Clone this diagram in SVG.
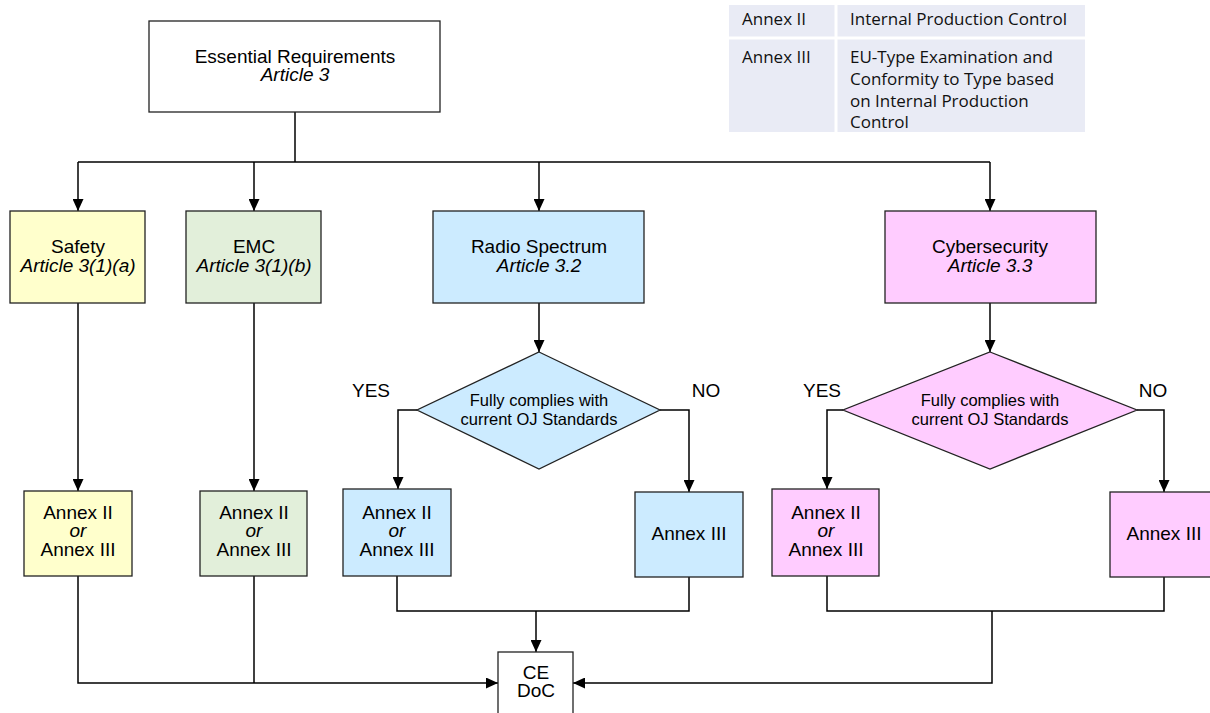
<svg xmlns="http://www.w3.org/2000/svg" width="1210" height="713" viewBox="0 0 1210 713">
<style>
.box{stroke:#222;stroke-width:1.3}
.t{font-family:"Liberation Sans",Arial,sans-serif;font-size:19px;fill:#000;text-anchor:middle}
.d{font-family:"Liberation Sans",Arial,sans-serif;font-size:16.5px;fill:#000;text-anchor:middle}
.i{font-style:italic}
.c{fill:none;stroke:#000;stroke-width:1.5}
.tb{font-family:"Open Sans","Liberation Sans",sans-serif;font-size:17px;fill:#111}
</style>
<defs>
<marker id="ah" viewBox="0 0 12 11" refX="12" refY="5.5" markerWidth="12" markerHeight="11" markerUnits="userSpaceOnUse" orient="auto">
<path d="M0,0 L12,5.5 L0,11 Z" fill="#000"/>
</marker>
</defs>
<rect width="1210" height="713" fill="#fff"/>

<g id="legend">
<rect x="729" y="5" width="356" height="127" fill="#E9EBF5"/>
<line x1="729" y1="38" x2="1085" y2="38" stroke="#fff" stroke-width="3"/>
<line x1="836" y1="5" x2="836" y2="132" stroke="#fff" stroke-width="3"/>
<text class="tb" x="742" y="25">Annex II</text>
<text class="tb" x="850" y="25">Internal Production Control</text>
<text class="tb" x="742" y="63">Annex III</text>
<text class="tb" x="850" y="63">EU-Type Examination and</text>
<text class="tb" x="850" y="85">Conformity to Type based</text>
<text class="tb" x="850" y="106.5">on Internal Production</text>
<text class="tb" x="850" y="128">Control</text>
</g>

<g id="connectors">
<path class="c" stroke-width="2" d="M295,112 V162"/>
<path class="c" stroke-width="2" d="M78,162 H990"/>
<path class="c" d="M78,162 V211" marker-end="url(#ah)"/>
<path class="c" d="M254,162 V211" marker-end="url(#ah)"/>
<path class="c" d="M539,162 V211" marker-end="url(#ah)"/>
<path class="c" d="M990,162 V211" marker-end="url(#ah)"/>
<path class="c" d="M78,303 V491" marker-end="url(#ah)"/>
<path class="c" d="M254,303 V491" marker-end="url(#ah)"/>
<path class="c" d="M539,303 V352" marker-end="url(#ah)"/>
<path class="c" d="M990,303 V352" marker-end="url(#ah)"/>
<path class="c" d="M417,410 H398 V489" marker-end="url(#ah)"/>
<path class="c" d="M660,410 H689 V492" marker-end="url(#ah)"/>
<path class="c" d="M843,410 H827 V489" marker-end="url(#ah)"/>
<path class="c" d="M1137,410 H1164 V492" marker-end="url(#ah)"/>
<path class="c" d="M397,576 V611 H689 V577"/>
<path class="c" d="M536,611 V652" marker-end="url(#ah)"/>
<path class="c" d="M827,576 V611 H1164 V577"/>
<path class="c" d="M992,611 V683 H573" marker-end="url(#ah)"/>
<path class="c" d="M78,576 V683 H498" marker-end="url(#ah)"/>
<path class="c" d="M254,576 V683"/>
</g>

<g id="essential">
<rect class="box" x="149" y="21" width="291" height="91" fill="#fff"/>
<text class="t" x="295" y="62.5">Essential Requirements</text>
<text class="t i" x="295" y="80.5">Article 3</text>
</g>

<g id="safety">
<rect class="box" x="10" y="211" width="135" height="92" fill="#FFFFCC"/>
<text class="t" x="78" y="252.5">Safety</text>
<text class="t i" x="78" y="271.5">Article 3(1)(a)</text>
</g>

<g id="emc">
<rect class="box" x="186" y="211" width="135" height="92" fill="#E2EFDA"/>
<text class="t" x="254" y="252.5">EMC</text>
<text class="t i" x="254" y="271.5">Article 3(1)(b)</text>
</g>

<g id="radio">
<rect class="box" x="433" y="211" width="211" height="92" fill="#CCEBFF"/>
<text class="t" x="539" y="252.5">Radio Spectrum</text>
<text class="t i" x="539" y="271.5">Article 3.2</text>
</g>

<g id="cyber">
<rect class="box" x="885" y="211" width="211" height="92" fill="#FFCCFF"/>
<text class="t" x="990" y="252.5">Cybersecurity</text>
<text class="t i" x="990" y="271.5">Article 3.3</text>
</g>

<g id="radio-decision">
<polygon class="box" points="539,352 660,410 539,469 417,410" fill="#CCEBFF"/>
<text class="d" x="539" y="405.5">Fully complies with</text>
<text class="d" x="539" y="424.5">current OJ Standards</text>
<text class="t" x="371" y="397">YES</text>
<text class="t" x="706" y="397">NO</text>
</g>

<g id="cyber-decision">
<polygon class="box" points="990,352 1137,410 990,469 843,410" fill="#FFCCFF"/>
<text class="d" x="990" y="405.5">Fully complies with</text>
<text class="d" x="990" y="424.5">current OJ Standards</text>
<text class="t" x="822" y="397">YES</text>
<text class="t" x="1153" y="397">NO</text>
</g>

<g id="safety-annex">
<rect class="box" x="24" y="491" width="108" height="85" fill="#FFFFCC"/>
<text class="t" x="78" y="518.5">Annex II</text>
<text class="t i" x="78" y="537">or</text>
<text class="t" x="78" y="556">Annex III</text>
</g>

<g id="emc-annex">
<rect class="box" x="200" y="491" width="107" height="85" fill="#E2EFDA"/>
<text class="t" x="254" y="518.5">Annex II</text>
<text class="t i" x="254" y="537">or</text>
<text class="t" x="254" y="556">Annex III</text>
</g>

<g id="radio-annex-yes">
<rect class="box" x="343" y="489" width="108" height="87" fill="#CCEBFF"/>
<text class="t" x="397" y="518.5">Annex II</text>
<text class="t i" x="397" y="537">or</text>
<text class="t" x="397" y="556">Annex III</text>
</g>

<g id="radio-annex-no">
<rect class="box" x="635" y="492" width="108" height="85" fill="#CCEBFF"/>
<text class="t" x="689" y="539.5">Annex III</text>
</g>

<g id="cyber-annex-yes">
<rect class="box" x="772" y="489" width="107" height="87" fill="#FFCCFF"/>
<text class="t" x="826" y="518.5">Annex II</text>
<text class="t i" x="826" y="537">or</text>
<text class="t" x="826" y="556">Annex III</text>
</g>

<g id="cyber-annex-no">
<rect class="box" x="1110" y="492" width="108" height="85" fill="#FFCCFF"/>
<text class="t" x="1164" y="539.5">Annex III</text>
</g>

<g id="ce-doc">
<rect class="box" x="498" y="652" width="75" height="70" fill="#fff"/>
<text class="t" x="536" y="679">CE</text>
<text class="t" x="536" y="697">DoC</text>
</g>
</svg>
